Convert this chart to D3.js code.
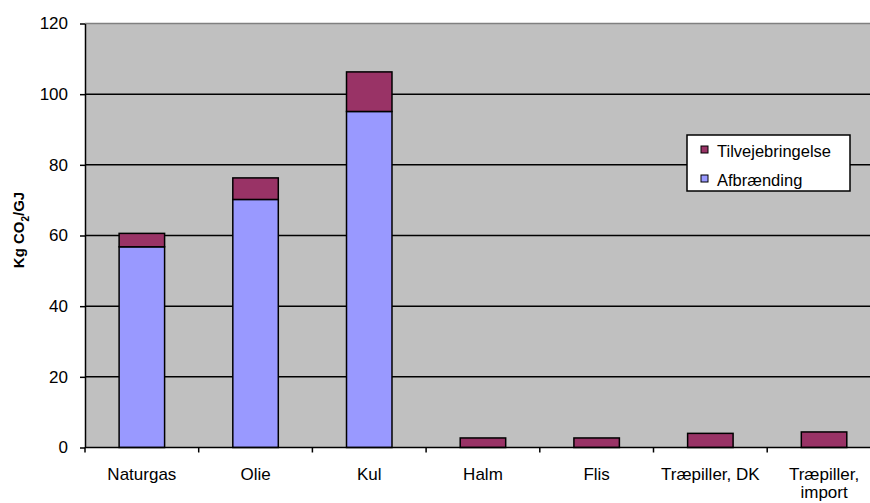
<!DOCTYPE html>
<html lang="da">
<head>
<meta charset="UTF-8">
<title>CO2 pr GJ</title>
<script src="https://cdn.jsdelivr.net/npm/d3@7"></script>
<style>
  body { margin: 0; background: #fff; }
  svg { display: block; font-family: "Liberation Sans", Arial, sans-serif; }
</style>
</head>
<body>
<div class="chart"></div>
<script>
// data
const categories = ['Naturgas', 'Olie', 'Kul', 'Halm', 'Flis', 'Træpiller, DK', 'Træpiller, import']
const afbraending = [56.8, 70.2, 95.1, 0, 0, 0, 0]
const tilvejebringelse = [3.8, 6.1, 11.2, 2.7, 2.7, 4.0, 4.4]
const seriesNames = ['Afbrænding', 'Tilvejebringelse']
const yTicks = [0, 20, 40, 60, 80, 100, 120]

const WIDTH = 870
const HEIGHT = 503
const LEFT = 85
const TOP = 23.5
const BOTTOM = 447.5
const BAND = 113.7
const FONT = '"Liberation Sans", Arial, sans-serif'

const svg = d3.select('.chart').append('svg')
  .attr('width', WIDTH)
  .attr('height', HEIGHT)

const x = d3.scaleBand()
  .domain(categories)
  .range([LEFT, LEFT + BAND * categories.length])
  .paddingInner(0.6)
  .paddingOuter(0.3)

const y = d3.scaleLinear()
  .domain([0, 120])
  .range([BOTTOM, TOP])

const colors = { 'Afbrænding': '#9999ff', 'Tilvejebringelse': '#993366' }

// plot background
svg.append('rect')
  .attr('x', LEFT)
  .attr('y', TOP)
  .attr('width', BAND * categories.length)
  .attr('height', BOTTOM - TOP)
  .attr('fill', '#c0c0c0')

// top border (grey)
svg.append('line')
  .attr('x1', LEFT).attr('x2', WIDTH)
  .attr('y1', TOP).attr('y2', TOP)
  .attr('stroke', '#808080')
  .attr('stroke-width', 1.5)

// gridlines
svg.append('g')
  .selectAll('line')
  .data(yTicks.filter(d => d > 0 && d < 120))
  .join('line')
  .attr('x1', LEFT).attr('x2', WIDTH)
  .attr('y1', d => y(d)).attr('y2', d => y(d))
  .attr('stroke', '#000')
  .attr('stroke-width', 1.5)

// stacked bars
const rows = categories.map((c, i) => ({
  cat: c,
  'Afbrænding': afbraending[i],
  'Tilvejebringelse': tilvejebringelse[i]
}))
const stack = d3.stack().keys(seriesNames)(rows)

svg.append('g')
  .selectAll('g')
  .data(stack)
  .join('g')
  .attr('fill', d => colors[d.key])
  .selectAll('rect')
  .data(d => d.filter(s => s[1] - s[0] > 0))
  .join('rect')
  .attr('x', d => x(d.data.cat))
  .attr('width', x.bandwidth())
  .attr('y', d => y(d[1]))
  .attr('height', d => y(d[0]) - y(d[1]))
  .attr('stroke', '#000')
  .attr('stroke-width', 1.5)

// y axis
const yAxis = svg.append('g')
  .attr('transform', `translate(${LEFT},0)`)
  .call(d3.axisLeft(y).tickValues(yTicks).tickSize(5).tickPadding(12).tickSizeOuter(0))
yAxis.select('.domain').attr('stroke-width', 1.5)
yAxis.selectAll('.tick line').attr('stroke-width', 1.5)
yAxis.selectAll('.tick text')
  .attr('font-size', 17)
  .attr('font-family', FONT)
  .attr('fill', '#000')

// x axis
const xAxis = svg.append('g')
  .attr('transform', `translate(0,${BOTTOM})`)
  .call(d3.axisBottom(x).tickSize(0).tickSizeOuter(0).tickPadding(20))
xAxis.select('.domain').remove()
svg.append('line')
  .attr('x1', LEFT).attr('x2', WIDTH)
  .attr('y1', BOTTOM).attr('y2', BOTTOM)
  .attr('stroke', '#000')
  .attr('stroke-width', 1.5)
// tick marks between categories
svg.append('g')
  .selectAll('line')
  .data(d3.range(categories.length + 1))
  .join('line')
  .attr('x1', i => LEFT + i * BAND).attr('x2', i => LEFT + i * BAND)
  .attr('y1', BOTTOM).attr('y2', BOTTOM + 5)
  .attr('stroke', '#000')
  .attr('stroke-width', 1.5)

xAxis.selectAll('.tick text')
  .attr('font-size', 17)
  .attr('font-family', FONT)
  .attr('fill', '#000')
  .each(function (d) {
    const t = d3.select(this)
    if (d === 'Træpiller, import') {
      t.text(null)
      t.append('tspan').attr('x', 0).attr('dy', '0.71em').text('Træpiller,')
      t.append('tspan').attr('x', 0).attr('dy', '1.08em').text('import')
      t.attr('dy', null)
    }
  })

// y label
svg.append('text')
  .attr('transform', 'translate(24,230) rotate(-90)')
  .attr('text-anchor', 'middle')
  .attr('font-size', 15)
  .attr('font-weight', 'bold')
  .call(t => {
    t.append('tspan').text('Kg CO')
    t.append('tspan').attr('font-size', 10).attr('dy', 5).text('2')
    t.append('tspan').attr('dy', -5).text('/GJ')
  })

// legend
const legend = svg.append('g').attr('transform', 'translate(687,135)')
legend.append('rect')
  .attr('width', 163)
  .attr('height', 56)
  .attr('fill', '#fff')
  .attr('stroke', '#000')
  .attr('stroke-width', 1.5)

const legendItems = ['Tilvejebringelse', 'Afbrænding']
const li = legend.selectAll('g.item')
  .data(legendItems)
  .join('g')
  .attr('class', 'item')
  .attr('transform', (d, i) => `translate(14,${16 + i * 29})`)
li.append('rect')
  .attr('x', 0).attr('y', -5)
  .attr('width', 7).attr('height', 7)
  .attr('fill', d => colors[d])
  .attr('stroke', '#000')
  .attr('stroke-width', 1)
li.append('text')
  .attr('x', 16)
  .attr('y', 0)
  .attr('dy', '0.35em')
  .attr('font-size', 16.5)
  .text(d => d)
</script>
</body>
</html>
